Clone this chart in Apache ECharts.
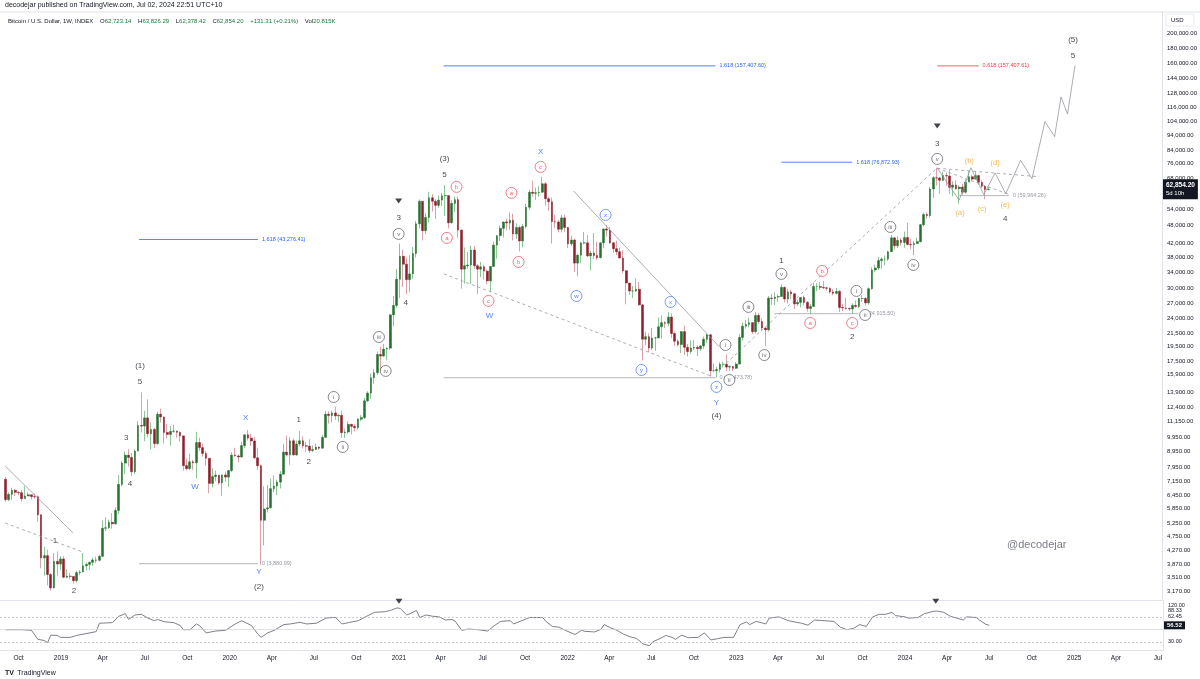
<!DOCTYPE html>
<html>
<head>
<meta charset="utf-8">
<script src="https://cdn.jsdelivr.net/npm/echarts@6/dist/echarts.min.js"></script>
<style>
  html, body { margin: 0; padding: 0; background: #fff; }
  #chart { width: 1200px; height: 679px; }
</style>
</head>
<body>
<div id="chart"></div>
<script>
// weekly candles, first week starts Mon 2018-09-03
const firstWeek = Date.UTC(2018, 8, 3);
const firstOpen = 7270;

// each week: [close, high, low] (open = previous close)
const w2018 = [
  [6250,7400,6150],[6500,6600,6180],[6700,6830,6240],[6600,6770,6420],
  [6580,6660,6450],[6290,6700,6150],[6420,6900,6350],[6480,6600,6420],[6390,6480,6250],
  [6380,6550,6300],[5580,6450,5300],[4050,5600,3750],[4120,4400,3550],
  [3580,4310,3300],[3240,3620,3180],[3950,4200,3230],[3870,4250,3550],[4020,4100,3700]
];
const w2019 = [
  [3510,4100,3480],[3540,3720,3480],[3530,3620,3460],[3420,3530,3350],
  [3630,3680,3370],[3650,3700,3560],[3820,4200,3640],[3860,3920,3690],
  [3920,3950,3700],[3990,4060,3820],[3980,4090,3900],[4100,4150,3950],
  [5050,5350,4090],[5070,5470,4950],[5280,5390,5020],[5220,5650,5030],[5770,5900,5180],
  [7000,7500,5620],[8200,8330,6900],[8700,8950,7560],[8550,9100,8000],
  [7690,8850,7450],[8970,9080,7560],[10850,11200,8960],[10800,13880,10300],
  [11480,12100,9650],[10200,13180,9950],[10530,11100,9070],[9480,10650,9170],[11800,12020,9400],
  [11560,12300,11080],[10300,11600,9500],[10150,10950,9860],[10380,10800,9350],
  [10400,10920,10280],[10310,10450,9900],[10040,10380,9630],[8050,10050,7750],[7870,8480,7770],
  [8280,8800,7800],[8220,8400,7800],[9560,10350,7300],[9200,9900,8980],
  [8810,9500,8600],[8500,8990,8050],[7050,8480,6550],[7420,7900,6850],
  [7500,7750,7170],[7080,7450,6980],[7510,7530,6430],[7390,7700,7130],[7760,7800,6870]
];
const w2020 = [
  [8700,8880,7680],[8650,9190,8600],[8580,8750,8250],[9340,9600,8550],
  [10120,10150,9160],[9880,10500,9700],[9670,10200,9300],[8530,9960,8450],
  [8040,9200,7800],[5360,8100,3850],[5830,6900,4450],[5880,6980,5680],[6780,7300,5860],
  [6910,7480,6600],[7120,7250,6470],[7550,7730,6790],[8900,9470,7600],
  [8720,10070,8600],[9680,9950,8100],[8720,9850,8660],[9450,9700,8650],
  [9680,10400,9300],[9330,10000,9160],[9300,9600,8930],[9010,9790,8840],[9070,9350,8900],
  [9240,9470,9060],[9160,9290,9050],[9930,10090,9160],[11800,12100,9900],
  [11680,12050,11000],[11910,12100,11100],[11650,12480,11300],[11700,11800,11100],[10280,12100,9900],
  [10330,10600,9870],[10940,11180,10200],[10780,10990,10140],[10670,10950,10380],
  [11370,11480,10530],[11500,11720,11200],[13030,13350,11400],[13800,14000,12900],
  [15480,15960,13220],[16070,16480,14800],[18400,18800,15800],[18180,19480,16200],[19150,19900,18100],
  [19280,19400,17600],[24700,24800,19000],[26490,28400,22700],[32200,34800,26000]
];
const w2021 = [
  [38200,41950,28000],[36000,40100,30400],[32100,37800,28800],[33500,38500,29200],
  [39000,40900,32300],[48600,49700,37900],[57500,58300,47000],[46200,57500,43000],
  [51000,52600,45000],[59000,61700,49200],[57500,60600,53300],[55800,58400,50400],[58000,60000,54800],
  [59900,61200,55500],[60000,64850,51500],[49000,57500,47000],[56600,58000,48700],
  [58200,59600,53000],[46400,59500,43800],[34700,46600,30000],[35600,40800,31200],[35800,39400,34800],
  [40000,41300,31100],[35600,41300,34800],[34700,36000,28800],[35300,36600,32700],
  [34200,35900,32100],[31800,34600,31000],[35400,35500,29300],[41500,42600,35300],
  [44500,44700,37500],[47000,48100,42800],[49300,49400,43900],[48900,50500,46400],[49900,52900,46500],
  [45100,52400,43000],[47300,48800,43400],[42800,48000,39600],[47700,48500,40800],
  [55000,56500,46900],[61500,62500,54000],[61000,67000,59500],[61300,63700,58000],
  [61500,64300,59500],[65500,69000,61300],[58600,66300,55700],[57300,59400,53500],[49400,59100,42000],
  [49300,51900,47200],[46700,50000,45600],[50800,51900,45600],[47300,52100,45700]
];
const w2022 = [
  [41900,47500,40600],[43100,44500,41300],[36300,43500,34000],[38500,38900,32900],[42200,42500,36300],
  [42200,45800,41700],[38300,44700,38000],[39100,39800,34300],[38400,45400,37400],
  [37800,42600,37200],[42200,42400,37600],[46800,46900,40500],[46400,48200,44200],
  [42200,47500,41900],[40400,42500,39200],[39500,42900,38500],[37700,40700,37600],
  [34300,40000,33700],[31300,34400,26700],[29500,31300,28700],[29500,30600,28000],[29900,32400,29300],
  [26600,31600,26500],[20600,26800,17600],[21000,21800,19700],[19300,21500,18700],
  [20800,22400,19000],[20800,21000,18900],[22600,24200,20800],[23300,24600,20700],
  [23200,23600,22400],[24300,25200,22700],[21500,25000,20800],[20300,21800,19600],[19800,20600,19500],
  [21800,21900,18600],[19400,22800,18300],[18800,19900,18100],[19300,20400,18500],
  [19400,20500,19000],[19200,19700,18200],[19600,19700,18900],[20600,21000,19200],[21300,21450,20100],
  [16300,21400,15600],[16300,17200,16200],[16450,16800,15500],[17100,17400,16100],
  [17100,17400,16700],[16750,18400,16300],[16830,16950,16300],[16600,16900,16300]
];
const w2023 = [
  [17130,17400,16500],[20880,21400,17200],[22700,23300,20400],[23000,23800,22300],[23300,24200,22500],
  [21800,23400,21400],[24600,25200,21500],[23500,25100,23100],[22400,24000,21900],
  [22100,22600,19600],[28000,28400,21800],[27900,28900,26600],[28200,29200,26500],
  [28300,28800,27200],[30300,31000,28300],[27800,30500,27100],[29300,30000,26900],
  [28900,29800,27700],[26800,29000,25800],[27100,27700,26400],[28100,28200,26100],[27100,28500,26500],
  [25900,27400,25300],[26300,26800,24800],[30500,31400,26200],[30500,31300,29500],
  [30300,31500,29700],[30200,31800,29900],[30100,30400,29600],[29300,30300,28900],[29000,29900,28600],
  [29400,30200,28700],[26100,29700,25200],[26000,26800,25400],[25900,28100,25700],
  [25800,26100,25400],[26500,26900,24900],[26300,27500,26000],[27900,28000,26000],
  [27900,28600,27200],[27000,28200,26500],[30000,30300,26600],[34500,35200,29800],[35000,35900,33900],
  [37000,38000,34500],[37400,37900,34800],[37400,38400,35700],[39500,39800,36900],
  [43800,44700,39600],[41300,44000,40200],[43000,44300,40600],[42300,43800,41300]
];
const w2024 = [
  [43900,45900,40700],[41700,49000,41500],[41600,43500,40300],[42000,42800,38500],[42600,43800,41900],
  [48300,48600,42300],[52100,52800,47600],[51700,52900,50500],[63000,64000,50900],
  [68500,69200,59000],[68400,73800,64600],[67200,68900,60800],[69600,71700,66800],
  [69400,71300,64500],[63800,72700,60700],[64900,66800,59600],[63100,67200,62400],[63900,64700,56500],
  [61500,65500,60200],[66300,67700,60800],[69000,71900,66500],[67800,70000,66700],
  [69600,71900,67800],[66200,70000,65000],[64300,67200,63400],[62720,64500,58400],
  [62854.2,63826.29,62378.42]
];
const lastPrice = 62854.2;

// RSI: week index and value
const rsiWeeks = [0,5,8,10,12,13,14,16,17,20,22,27,28,29,33,35,37,38,40,42,44,46,47,49,52,54,55,57,59,60,62,65,68,71,73,76,78,79,81,83,86,88,91,93,96,99,101,102,104,106,109,112,114,117,119,121,122,124,125,127,128,130,132,134,136,138,139,141,143,146,149,151,153,156,157,159,162,164,166,167,169,171,173,176,178,179,182,184,185,187,189,191,193,195,197,199,200,203,204,206,207,209,211,214,216,218,220,222,225,227,229,230,232,235,236,239,242,244,246,248,250,253,256,258,260,262,264,266,268,270,272,274,275,278,279,282,284,287,288,290,292,294,296,297,300,301,303,304];
const rsiValues = [49.5,49.5,48.5,34.1,32.1,29.0,40.8,40.3,37.2,37.2,40.3,45.4,46.4,59.8,60.8,71.0,75.1,65.9,73.1,74.1,68.0,63.9,65.9,62.3,60.8,56.2,49.5,49.5,58.7,55.7,44.4,47.4,48.5,58.7,63.9,56.2,42.3,37.2,44.4,48.5,57.7,58.7,61.3,58.7,59.8,68.0,69.0,69.0,58.7,60.8,63.9,72.1,77.2,78.2,80.3,84.4,83.4,73.1,75.1,80.3,69.0,73.1,71.0,70.0,64.9,65.9,62.8,48.5,50.5,49.5,47.4,55.7,62.8,63.9,58.7,62.8,69.0,69.0,69.0,62.8,54.6,53.6,48.5,41.8,48.5,46.9,45.9,50.0,57.7,52.6,48.5,42.3,38.2,35.6,26.9,23.8,30.0,37.2,40.3,37.2,34.1,40.8,36.7,37.2,44.4,33.1,35.1,37.2,37.2,57.7,61.8,57.7,62.8,58.7,68.0,70.0,63.9,61.8,59.8,56.7,64.9,63.9,62.8,53.6,49.5,51.5,57.7,54.6,70.0,74.1,74.1,77.2,72.1,70.0,68.0,69.0,75.1,79.2,79.2,77.2,71.0,68.0,64.9,70.0,69.0,64.9,58.0,56.52];
const lastRsi = 56.52;

// price scale and RSI scale tick labels
const priceTicks = [200000,180000,160000,144000,128000,116000,104000,94000,84000,76000,68000,54000,48000,42000,38000,34000,30000,27000,24000,21500,19500,17500,15900,13900,12400,11150,9950,8950,7950,7150,6450,5850,5250,4750,4270,3870,3510,3170];
const rsiTicks = [88.5, 80.5, 71, 30];
const rsiTickText = ['120.00', '88.33', '62.45', '30.00'];
const monthNames = ['Jan','Feb','Mar','Apr','May','Jun','Jul','Aug','Sep','Oct','Nov','Dec'];

// wave count annotations: [week index, price, text]
const waveLabels = [
  [41.6,16890,'(1)'],[41.6,14990,'5'],[37.3,9885,'3'],[38.5,7020,'4'],[15.3,4600,'1'],[21.2,3166,'2'],
  [90.7,11300,'1'],[93.8,8270,'2'],[78.4,3262,'(2)'],[121.6,50800,'3'],[123.8,26980,'4'],
  [135.8,78800,'(3)'],[135.8,69950,'5'],[219.9,11650,'(4)'],[240.0,36900,'1'],[261.9,20950,'2'],
  [288.2,88100,'3'],[309.2,50430,'4'],[330.2,191000,'(5)'],[330.2,169600,'5']
];
const blueLetters = [[58.6,6865,'W'],[74.3,11470,'X'],[78.4,3647,'Y'],[149.7,24490,'W'],[165.5,83000,'X'],[219.9,12830,'Y']];
const romanCircles = [
  [101.5,13410,'i'],[104.3,9245,'ii'],[115.5,20950,'iii'],[117.6,16280,'iv'],[121.6,45100,'v'],
  [222.7,19740,'i'],[223.9,15220,'ii'],[229.8,26200,'iii'],[234.7,18320,'iv'],[240.0,33500,'v'],
  [263.2,29510,'i'],[265.9,24680,'ii'],[273.7,47500,'iii'],[280.8,35810,'iv'],[288.2,78800,'v']
];
const redCircles = [[139.5,63990,'b'],[136.5,43780,'a'],[149.4,27400,'c'],[156.5,61190,'a'],[158.7,36610,'b'],[165.5,74250,'c'],[248.9,23250,'a'],[252.6,34250,'b'],[261.9,23250,'c']];
const blueCircles = [[185.6,51950,'x'],[176.6,28430,'w'],[205.7,27190,'x'],[196.7,16390,'y'],[219.9,14450,'z']];
const orangeLabels = [[298.1,77630,'(b)'],[306.1,76490,'(d)'],[295.3,52730,'(a)'],[302.1,54320,'(c)'],[309.2,55960,'(e)']];
const topMarkers = [[121.6,57640],[288.2,100700]];
const rsiMarkers = [121.6, 287.5];

// fib levels: [fromWeek, toWeek, price, label, colour]
const fibLevels = [
  [41.3, 78.1, 43276.41, '1.618 (43,276.41)', '#2962ff'],
  [41.3, 78.1, 3880.99, '0 (3,880.99)', '#9598a1'],
  [135.5, 219.6, 157407.6, '1.618 (157,407.60)', '#2962ff'],
  [135.5, 219.6, 15473.78, '0 (15,473.78)', '#9598a1'],
  [240.0, 261.9, 76872.93, '1.618 (76,872.93)', '#2962ff'],
  [237.8, 263.8, 24915.5, '0 (24,915.50)', '#9598a1'],
  [288.2, 301.0, 157407.61, '0.618 (157,407.61)', '#f23645'],
  [295.0, 310.4, 59964.26, '0 (59,964.26)', '#9598a1']
];
// trend lines: [[week, price], [week, price], dashed]
const trendLines = [
  [[-0.1, 8025], [20.9, 4880], false],
  [[-0.1, 5250], [23.7, 4240], true],
  [[175.7, 62090], [220.8, 19460], false],
  [[135.6, 33500], [218.7, 15600], true],
  [[222.9, 17230], [288.1, 73530], true],
  [[288.2, 73530], [319.7, 69000], true],
  [[288.2, 73530], [310.4, 60500], true]
];
// projected path for the triangle and the last leg
const projection = [
  [288.2,73530],[295.0,58000],[298.6,73800],[302.6,60400],[306.1,71000],[309.4,60800],
  [314.0,78000],[317.5,68000],[321.5,104000],[324.5,93000],[326.5,125000],[328.5,110000],[330.8,157407]
];

const DAY = 86400000;
const wt = i => firstWeek + i * 7 * DAY;

const weeks = [].concat(w2018, w2019, w2020, w2021, w2022, w2023, w2024);
const candles = [];
const bodies = [];
let prevClose = firstOpen;
weeks.forEach((w, i) => {
  const o = prevClose, c = w[0], h = w[1], l = w[2];
  candles.push([wt(i), o, c, l, h]);
  bodies.push([wt(i), o, c, Math.min(o, c), Math.max(o, c)]);
  prevClose = c;
});
const rsiData = rsiWeeks.map((k, i) => [wt(k), rsiValues[i]]);

const xMin = Date.UTC(2018, 7, 22);
const xMax = Date.UTC(2025, 6, 12);
const xTicks = [];
for (let y = 2018; y <= 2025; y++) {
  [0, 3, 6, 9].forEach(m => {
    const t = Date.UTC(y, m, 1);
    if (t > xMin && t < xMax) xTicks.push(t);
  });
}

const FONT = '"Liberation Sans", Arial, sans-serif';
const TXT = '#131722';
const upBody = '#27702f', downBody = '#8e1e2b';
const upWick = '#8cc596', downWick = '#dca2aa';

function textSeries(list, color, size, weight) {
  return {
    type: 'scatter', xAxisIndex: 0, yAxisIndex: 0, silent: true, z: 10,
    symbolSize: 0,
    data: list.map(d => [wt(d[0]), d[1], d[2]]),
    label: { show: true, position: 'inside', formatter: p => p.data[2], color, fontSize: size, fontFamily: FONT, fontWeight: weight || 'normal' }
  };
}
function circleSeries(list, color) {
  return {
    type: 'scatter', xAxisIndex: 0, yAxisIndex: 0, silent: true, z: 10,
    symbol: 'circle', symbolSize: 11,
    itemStyle: { color: '#fff', borderColor: color, borderWidth: 0.8 },
    data: list.map(d => [wt(d[0]), d[1], d[2]]),
    label: { show: true, position: 'inside', formatter: p => p.data[2], color, fontSize: 6, fontFamily: FONT }
  };
}
function lineSeries(points, color, type, endText, width) {
  const s = {
    type: 'line', xAxisIndex: 0, yAxisIndex: 0, silent: true, z: 5,
    symbol: 'none', data: points.map(p => [wt(p[0]), p[1]]),
    lineStyle: { color, width: width || 0.8, type }
  };
  if (endText) {
    s.endLabel = { show: true, formatter: endText, color, fontSize: 5.5, fontFamily: FONT, distance: 4 };
  }
  return s;
}

const hidden = { color: 'rgba(0,0,0,0)', width: 0 };
const rsiAxisMarks = rsiTicks.map((v, i) => ({
  yAxis: v, lineStyle: hidden,
  label: { show: true, position: 'end', distance: 5, formatter: rsiTickText[i], color: TXT, fontSize: 5.5, fontFamily: FONT }
}));

const series = [
  {
    type: 'candlestick', xAxisIndex: 0, yAxisIndex: 0, data: candles, barWidth: 1, silent: true, z: 2,
    itemStyle: { color: upWick, color0: downWick, borderColor: upWick, borderColor0: downWick, borderWidth: 1 }
  },
  {
    type: 'candlestick', xAxisIndex: 0, yAxisIndex: 0, data: bodies, barWidth: 2.2, silent: true, z: 3,
    itemStyle: { color: upBody, color0: downBody, borderColor: upBody, borderColor0: downBody, borderWidth: 0.5 },
    markLine: {
      symbol: 'none', silent: true, animation: false,
      lineStyle: hidden,
      data: [{ yAxis: lastPrice }],
      label: {
        show: true, position: 'end', distance: 1,
        formatter: '{a|62,854.20}\n{b|5d 10h}',
        backgroundColor: '#131722', padding: [2, 3, 2, 3],
        rich: {
          a: { color: '#fff', fontSize: 6.5, fontWeight: 'bold', fontFamily: FONT, lineHeight: 8 },
          b: { color: '#fff', fontSize: 6, fontFamily: FONT, lineHeight: 8 }
        }
      }
    }
  },
  {
    type: 'line', xAxisIndex: 1, yAxisIndex: 1, data: rsiData, symbol: 'none', silent: true,
    lineStyle: { color: '#6f727c', width: 0.9 },
    markLine: {
      symbol: 'none', silent: true, animation: false,
      label: { show: false },
      data: [
        { yAxis: 70, lineStyle: { color: '#b2b5be', type: [2, 2], width: 0.7 } },
        { yAxis: 50, lineStyle: { color: '#d1d4dc', type: 'solid', width: 0.7 } },
        { yAxis: 30, lineStyle: { color: '#b2b5be', type: [2, 2], width: 0.7 } },
        {
          yAxis: lastRsi, lineStyle: hidden,
          label: { show: true, position: 'end', distance: 1, formatter: '56.52', color: '#fff', backgroundColor: '#131722', fontSize: 6, fontWeight: 'bold', fontFamily: FONT, padding: [1, 3] }
        }
      ].concat(rsiAxisMarks)
    }
  },
  {
    type: 'scatter', xAxisIndex: 1, yAxisIndex: 1, silent: true, z: 10,
    symbol: 'triangle', symbolRotate: 180, symbolSize: [7, 5],
    itemStyle: { color: '#131722' },
    data: rsiMarkers.map(k => [wt(k), 95])
  },
  {
    type: 'scatter', xAxisIndex: 0, yAxisIndex: 0, silent: true, z: 10,
    symbol: 'triangle', symbolRotate: 180, symbolSize: [7, 5],
    itemStyle: { color: '#131722' },
    data: topMarkers.map(d => [wt(d[0]), d[1]])
  },
  textSeries(waveLabels, TXT, 8),
  textSeries(blueLetters, '#2962ff', 8),
  textSeries(orangeLabels, '#f5a623', 7.5),
  circleSeries(romanCircles, '#434651'),
  circleSeries(redCircles, '#f23645'),
  circleSeries(blueCircles, '#2962ff')
];
fibLevels.forEach(f => {
  series.push(lineSeries([[f[0], f[2]], [f[1], f[2]]], f[4], 'solid', f[3], f[4] === '#9598a1' ? 0.7 : 0.8));
});
trendLines.forEach(t => {
  series.push(lineSeries([t[0], t[1]], '#9598a1', t[2] ? [3, 3] : 'solid', null, 0.8));
});
series.push(lineSeries(projection, '#9598a1', 'solid', null, 0.8));

const xLabelFmt = v => {
  const d = new Date(v);
  return d.getUTCMonth() === 0 ? String(d.getUTCFullYear()) : monthNames[d.getUTCMonth()];
};

const chart = echarts.init(document.getElementById('chart'), null, { renderer: 'canvas' });
chart.setOption({
  animation: false,
  backgroundColor: '#ffffff',
  grid: [
    { left: 0, right: 37, top: 12, height: 588 },
    { left: 0, right: 37, top: 600, height: 50 }
  ],
  xAxis: [
    {
      type: 'value', gridIndex: 0, min: xMin, max: xMax, scale: true,
      axisLine: { show: true, lineStyle: { color: '#e0e3eb' } },
      axisTick: { show: false }, axisLabel: { show: false }, splitLine: { show: false }
    },
    {
      type: 'value', gridIndex: 1, min: xMin, max: xMax, scale: true,
      axisLine: { show: true, lineStyle: { color: '#e0e3eb' } },
      axisTick: { show: false }, splitLine: { show: false },
      axisLabel: {
        customValues: xTicks, color: TXT, fontSize: 6.5, fontFamily: FONT, margin: 5, hideOverlap: false,
        formatter: xLabelFmt
      }
    }
  ],
  yAxis: [
    {
      type: 'log', logBase: 10, gridIndex: 0, position: 'right', min: 2962, max: 235000,
      axisLine: { show: true, lineStyle: { color: '#e0e3eb' } },
      axisTick: { show: false }, splitLine: { show: false },
      axisLabel: {
        customValues: priceTicks, color: TXT, fontSize: 6, fontFamily: FONT, margin: 5, hideOverlap: false,
        formatter: v => Number(v).toLocaleString('en-US', { minimumFractionDigits: 2, maximumFractionDigits: 2 })
      }
    },
    {
      type: 'value', gridIndex: 1, position: 'right', min: 17, max: 97,
      axisLine: { show: true, lineStyle: { color: '#e0e3eb' } },
      axisTick: { show: false }, splitLine: { show: false },
      axisLabel: { show: false }
    }
  ],
  graphic: [
    { type: 'text', left: 5, top: 2, style: { text: 'decodejar published on TradingView.com, Jul 02, 2024 22:51 UTC+10', fill: TXT, fontSize: 7, fontFamily: FONT } },
    { type: 'line', shape: { x1: 0, y1: 12, x2: 1200, y2: 12 }, style: { stroke: '#e0e3eb', lineWidth: 1 } },
    {
      type: 'text', left: 8, top: 15,
      style: {
        text: '{t|Bitcoin / U.S. Dollar, 1W, INDEX}  {t|O}{g|62,723.14}  {t|H}{g|63,826.29}  {t|L}{g|62,378.42}  {t|C}{g|62,854.20}  {g|+131.31 (+0.21%)}  {t|Vol}{g|20.815K}',
        rich: {
          t: { fill: TXT, fontSize: 6, fontFamily: FONT },
          g: { fill: '#1b7b3a', fontSize: 6, fontFamily: FONT }
        }
      }
    },
    { type: 'rect', shape: { x: 1166, y: 14, width: 28, height: 12 }, style: { fill: '#fff', stroke: '#e0e3eb', lineWidth: 0.8 } },
    { type: 'text', left: 1171, top: 17, style: { text: 'USD', fill: TXT, fontSize: 6, fontFamily: FONT } },
    { type: 'text', left: 1007, top: 539, style: { text: '@decodejar', fill: '#7b7e88', fontSize: 11, fontFamily: FONT } },
    {
      type: 'text', left: 5, top: 667,
      style: { text: '{l|TV} {n|TradingView}', rich: { l: { fill: TXT, fontSize: 7, fontWeight: 'bold', fontFamily: FONT }, n: { fill: TXT, fontSize: 7, fontFamily: FONT } } }
    }
  ],
  series
});
</script>
</body>
</html>
